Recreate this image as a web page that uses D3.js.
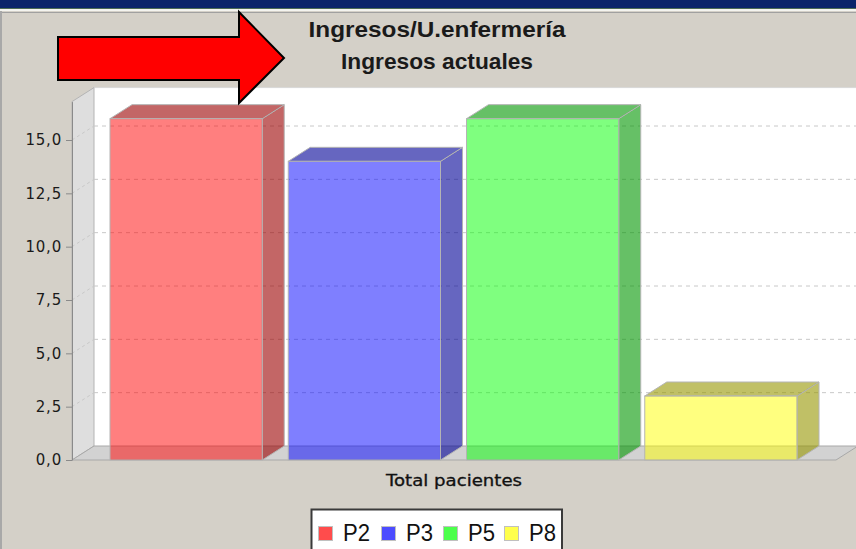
<!DOCTYPE html>
<html><head><meta charset="utf-8">
<script src="https://cdnjs.cloudflare.com/ajax/libs/d3/7.8.5/d3.min.js"></script>
<style>html,body{margin:0;padding:0;background:#d4d0c8;overflow:hidden}</style>
</head><body>
<svg id="c" width="856" height="549"></svg>
<script>
const titleLines = ["Ingresos/U.enfermería", "Ingresos actuales"];
const categoryLabel = "Total pacientes";
const seriesNames = ["P2", "P3", "P5", "P8"];
const seriesValues = [16, 14, 16, 3];
const seriesColors = ["#ff0000", "#0000ff", "#00ff00", "#ffff00"];
const sideColors = ["#9b0000", "#000096", "#009600", "#969600"];
const yTicks = [0, 2.5, 5, 7.5, 10, 12.5, 15];
const yMax = 16.8;

const svg = d3.select("#c");
const W = 856, H = 549;
const dx = 22, dy = -14;
const axisX = 72, baseY = 460;

// background & window chrome
svg.append("rect").attr("x",0).attr("y",0).attr("width",W).attr("height",H).attr("fill","#d4d0c8");
svg.append("rect").attr("x",0).attr("y",0).attr("width",W).attr("height",8).attr("fill","#0a246a");
svg.append("rect").attr("x",0).attr("y",8).attr("width",W).attr("height",1).attr("fill","#4b6b55");
svg.append("rect").attr("x",0).attr("y",9).attr("width",W).attr("height",2).attr("fill","#f4f4f0");
svg.append("rect").attr("x",0).attr("y",12).attr("width",W).attr("height",1).attr("fill","#a0a0a0");
svg.append("rect").attr("x",0).attr("y",11).attr("width",2).attr("height",H).attr("fill","#a8a8a8");

const y = d3.scaleLinear().domain([0, yMax]).range([baseY, 101.6]);
const x = d3.scaleBand().domain(seriesNames).range([110, 797]).paddingInner(0.146).paddingOuter(0);
const bw = x.bandwidth();

const plotRight = W;
const yTop = y(yMax);

// back wall
svg.append("rect").attr("x", axisX+dx).attr("y", yTop+dy).attr("width", plotRight-(axisX+dx)).attr("height", baseY-yTop)
  .attr("fill","#ffffff");
svg.append("line").attr("x1",axisX+dx).attr("x2",plotRight).attr("y1",yTop+dy).attr("y2",yTop+dy).attr("stroke","#d8d8d8");
// left wall
svg.append("polygon")
  .attr("points", [[axisX,baseY],[axisX,yTop],[axisX+dx,yTop+dy],[axisX+dx,baseY+dy]].map(p=>p.join(",")).join(" "))
  .attr("fill","#dedede").attr("stroke","#b4b4b4").attr("stroke-width",1);
// floor
svg.append("polygon")
  .attr("points", [[axisX,baseY],[axisX+dx,baseY+dy],[plotRight+2,baseY+dy],[plotRight+2-dx,baseY]].map(p=>p.join(",")).join(" "))
  .attr("fill","#d2d2d2").attr("stroke","#a8a8a8").attr("stroke-width",1);

// gridlines
const grid = svg.append("g");
yTicks.filter(v=>v>0).forEach(v=>{
  grid.append("line").attr("x1",axisX+dx).attr("x2",plotRight).attr("y1",y(v)+dy).attr("y2",y(v)+dy)
    .attr("stroke","#c8c8c8").attr("stroke-dasharray","4,4");
  grid.append("line").attr("x1",axisX).attr("x2",axisX+dx).attr("y1",y(v)).attr("y2",y(v)+dy)
    .attr("stroke","#c8c8c8").attr("stroke-dasharray","3,3");
});

// bars
const bars = svg.append("g");
seriesNames.forEach((s,i)=>{
  const v = seriesValues[i];
  const x0 = x(s), x1 = x0 + bw, yt = y(v), yb = y(0);
  bars.append("polygon")
    .attr("points", [[x1,yt],[x1+dx,yt+dy],[x1+dx,yb+dy],[x1,yb]].map(p=>p.join(",")).join(" "))
    .attr("fill", sideColors[i]).attr("fill-opacity",0.6).attr("stroke","#b4b4b4").attr("stroke-width",1);
  bars.append("polygon")
    .attr("points", [[x0,yt],[x0+dx,yt+dy],[x1+dx,yt+dy],[x1,yt]].map(p=>p.join(",")).join(" "))
    .attr("fill", sideColors[i]).attr("fill-opacity",0.6).attr("stroke","#b4b4b4").attr("stroke-width",1);
  bars.append("rect").attr("x",x0).attr("y",yt).attr("width",bw).attr("height",yb-yt)
    .attr("fill", seriesColors[i]).attr("fill-opacity",0.5).attr("stroke","#b4b4b4").attr("stroke-width",1);
});

// y axis
const loc = d3.formatLocale({decimal:",", thousands:".", grouping:[3], currency:["","€"]});
const fmt = loc.format(".1f");
const ax = svg.append("g").attr("transform",`translate(${axisX},0)`)
  .call(d3.axisLeft(y).tickValues(yTicks).tickFormat(fmt).tickSize(6).tickSizeOuter(0));
ax.select(".domain").attr("stroke","#8a8a8a");
ax.selectAll(".tick line").attr("stroke","#8a8a8a");
ax.selectAll(".tick text").attr("fill","#1a1a1a").attr("font-family","DejaVu Sans").attr("font-size",15)
  .attr("font-weight",500).attr("letter-spacing","0.8px").attr("x",-10);

// category label
svg.append("text").attr("x",454).attr("y",486).attr("text-anchor","middle")
  .attr("font-family","DejaVu Sans").attr("font-size",15).attr("fill","#111")
  .attr("stroke","#111").attr("stroke-width",0.3)
  .attr("textLength",136).attr("lengthAdjust","spacingAndGlyphs").text(categoryLabel);

// titles
svg.append("text").attr("x",437).attr("y",37).attr("text-anchor","middle")
  .attr("font-family","Liberation Sans").attr("font-weight","bold").attr("font-size",22).attr("fill","#1a1a1a")
  .attr("textLength",257).attr("lengthAdjust","spacingAndGlyphs").text(titleLines[0]);
svg.append("text").attr("x",437).attr("y",69).attr("text-anchor","middle")
  .attr("font-family","Liberation Sans").attr("font-weight","bold").attr("font-size",22).attr("fill","#1a1a1a")
  .attr("textLength",192).attr("lengthAdjust","spacingAndGlyphs").text(titleLines[1]);

// legend
const lg = svg.append("g");
lg.append("rect").attr("x",311.5).attr("y",509.5).attr("width",250.5).attr("height",50)
  .attr("fill","#ffffff").attr("stroke","#3a3a3a").attr("stroke-width",2);
const legX = [318, 381, 443, 504];
seriesNames.forEach((s,i)=>{
  lg.append("rect").attr("x",legX[i]+0.5).attr("y",526.5).attr("width",14).attr("height",14)
    .attr("fill",seriesColors[i]).attr("fill-opacity",0.7).attr("stroke","#c0c0c0");
  lg.append("text").attr("x",legX[i]+25).attr("y",541)
    .attr("font-family","Liberation Sans").attr("font-size",24).attr("fill","#111")
    .attr("textLength",27).attr("lengthAdjust","spacingAndGlyphs").text(s);
});

// red arrow annotation
const arrow = [[58,37],[239,37],[239,12],[284,58],[239,103],[239,80],[58,80]];
svg.append("polygon").attr("points", arrow.map(p=>p.join(",")).join(" "))
  .attr("fill","#ff0000").attr("stroke","#000").attr("stroke-width",2).attr("stroke-linejoin","miter");
</script>
</body></html>
